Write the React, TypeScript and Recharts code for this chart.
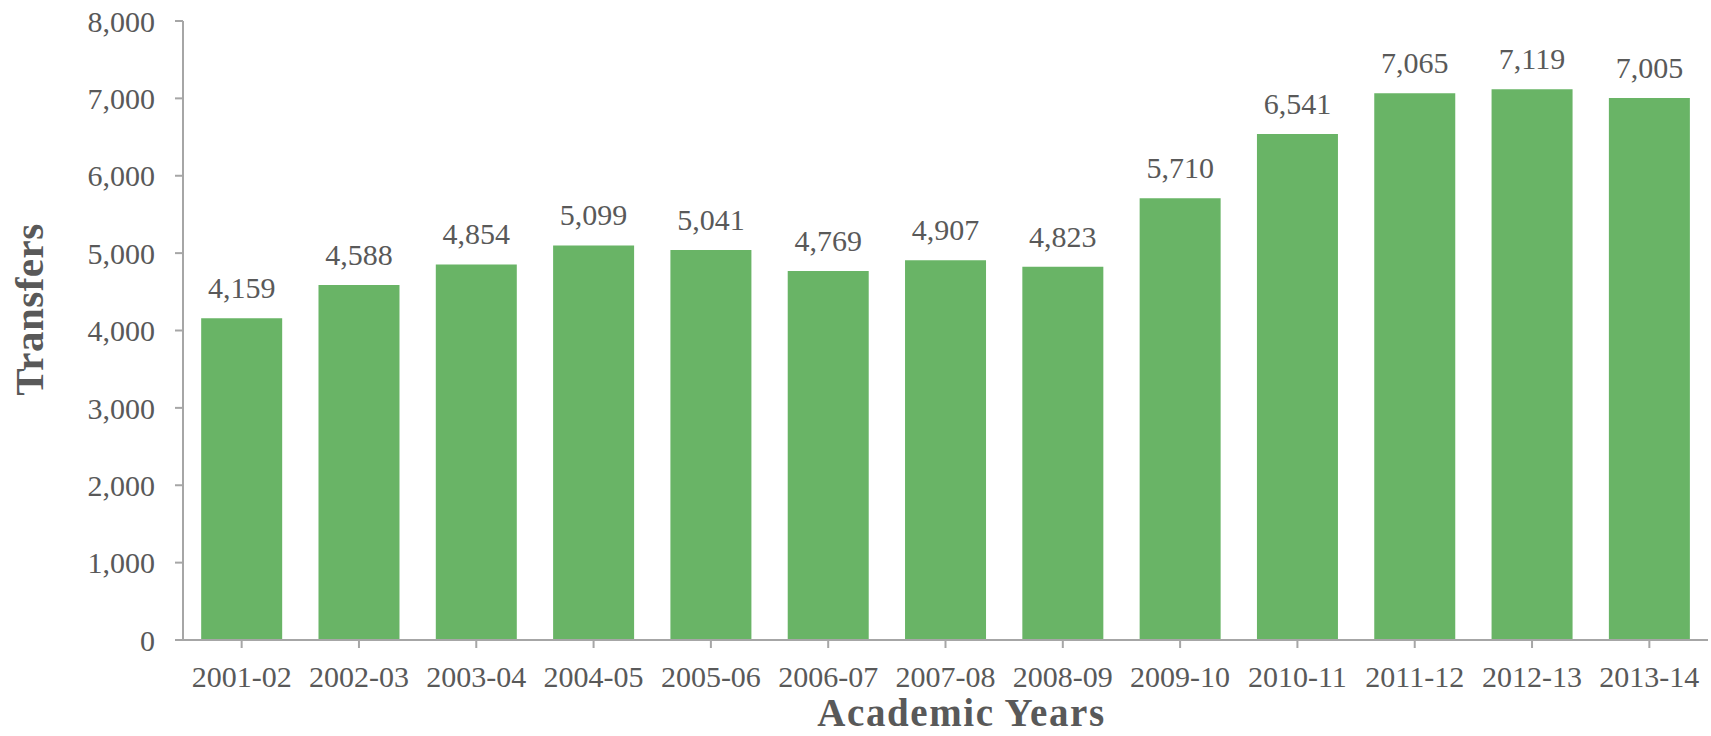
import React from 'react';
import { BarChart, Bar, XAxis, YAxis, LabelList } from 'recharts';

const years = ['2001-02', '2002-03', '2003-04', '2004-05', '2005-06', '2006-07', '2007-08', '2008-09', '2009-10', '2010-11', '2011-12', '2012-13', '2013-14'];
const transfers = [4159, 4588, 4854, 5099, 5041, 4769, 4907, 4823, 5710, 6541, 7065, 7119, 7005];
const yTicks = [0, 1000, 2000, 3000, 4000, 5000, 6000, 7000, 8000];

const data = years.map((y, i) => ({ year: y, value: transfers[i] }));

const FONT = '"Liberation Serif", "Times New Roman", serif';
const TEXT = '#595959';
const AXIS = '#a6a6a6';
const BAR = '#69b466';

const fmt = (v: number) => v.toLocaleString('en-US');

export default function App() {
  return (
    <div style={{ position: 'absolute', left: 0, top: 0, width: 1711, height: 736, background: '#fff' }}>
      <BarChart
        width={1711}
        height={736}
        data={data}
        margin={{ top: 21, right: 3, left: 0, bottom: 0 }}
        barCategoryGap="15.5%"
      >
        <XAxis
          dataKey="year"
          height={96}
          stroke={AXIS}
          strokeWidth={2}
          tickSize={8}
          tickMargin={18}
          interval={0}
          tick={{ fill: TEXT, fontSize: 30, fontFamily: FONT }}
          label={{
            content: (p: any) => {
              const vb = p.viewBox;
              return (
                <text
                  x={vb.x + vb.width / 2 + 16}
                  y={726}
                  textAnchor="middle"
                  fill={TEXT}
                  fontSize={39}
                  letterSpacing={1.6}
                  fontWeight="bold"
                  fontFamily={FONT}
                >
                  Academic Years
                </text>
              );
            },
          }}
        />
        <YAxis
          width={183}
          domain={[0, 8000]}
          ticks={yTicks}
          interval={0}
          stroke={AXIS}
          strokeWidth={2}
          tickSize={8}
          tickMargin={20}
          tickFormatter={fmt}
          tick={{ fill: TEXT, fontSize: 30, fontFamily: FONT }}
          label={{
            content: (p: any) => {
              const vb = p.viewBox;
              const cx = 43;
              const cy = vb.y + vb.height / 2 - 21;
              return (
                <text
                  x={cx}
                  y={cy}
                  transform={`rotate(-90 ${cx} ${cy})`}
                  textAnchor="middle"
                  fill={TEXT}
                  fontSize={41}
                  letterSpacing={0.5}
                  fontWeight="bold"
                  fontFamily={FONT}
                >
                  Transfers
                </text>
              );
            },
          }}
        />
        <Bar dataKey="value" fill={BAR} isAnimationActive={false}>
          <LabelList
            dataKey="value"
            position="top"
            offset={20}
            formatter={(v: any) => fmt(Number(v))}
            style={{ fill: TEXT, fontSize: 30, fontFamily: FONT }}
          />
        </Bar>
      </BarChart>
    </div>
  );
}
